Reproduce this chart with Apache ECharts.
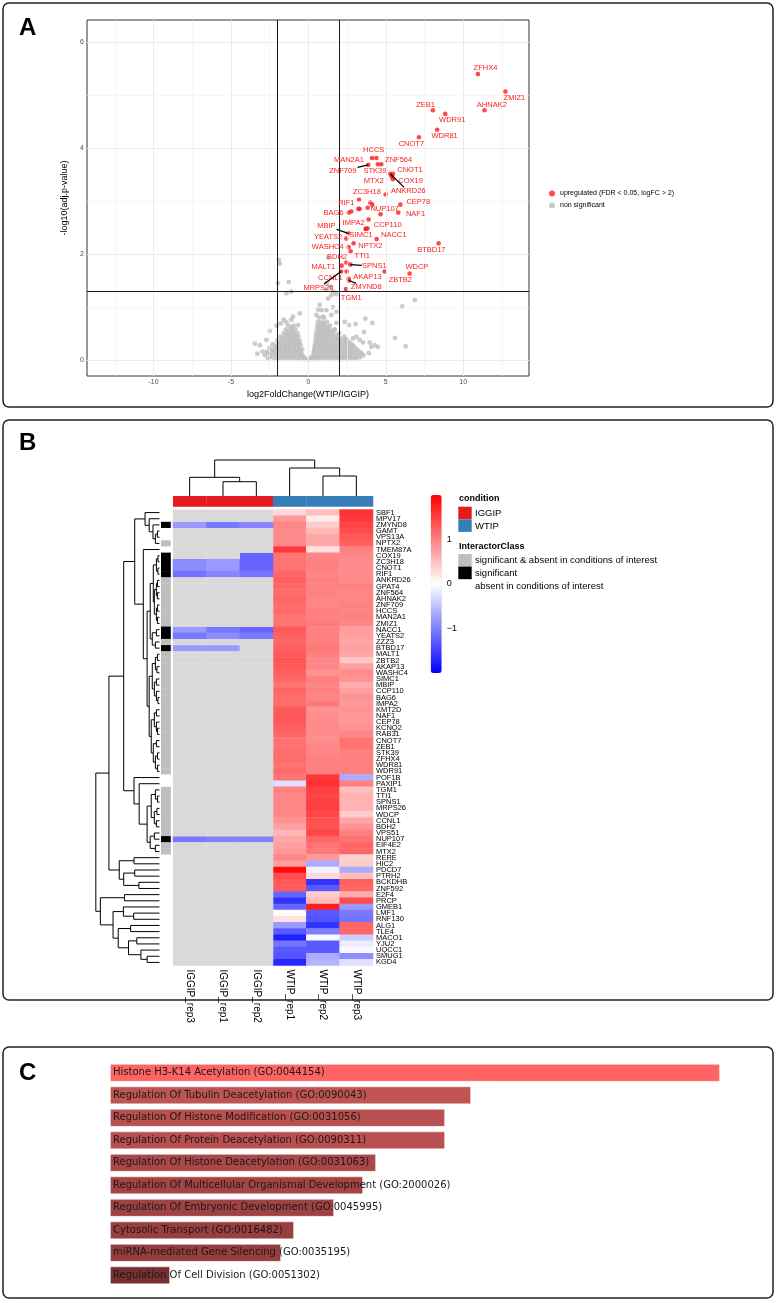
<!DOCTYPE html>
<html><head><meta charset="utf-8">
<script src="https://cdn.jsdelivr.net/npm/echarts@6/dist/echarts.min.js"></script>
<style>html,body{margin:0;padding:0;background:#fff}#c{width:776px;height:1303px}</style>
</head><body><div id="c"></div>
<script>
// ---------------- Panel A data ----------------
const xTicks = [-10,-5,0,5,10];
const xMinorGrid = [-12.5,-7.5,-2.5,2.5,7.5,12.5];
const yTicks = [0,2,4,6];
const yMinorGrid = [1,3,5];
const fcCut = 2, pCut = 1.30;

const upGenes = ['ZFHX4','ZMIZ1','AHNAK2','ZEB1','WDR91','WDR81','CNOT7','HCCS','MAN2A1','ZNF564','ZNF709','STK39','CNOT1','MTX2','COX19','ANKRD26','ZC3H18','RIF1','CEP78','NUP107','NAF1','BAG6','IMPA2','CCP110','MBIP','SIMC1','NACC1','YEATS2','NPTX2','WASHC4','BTBD17','TTI1','BDH2','SPNS1','MALT1','WDCP','CCNL1','AKAP13','ZBTB2','MRPS26','ZMYND8','TGM1'];
const upLogFC = [10.95,12.73,11.38,8.04,8.84,8.32,7.14,4.39,4.11,4.71,3.87,4.49,5.46,5.38,5.46,5.29,4.99,3.27,5.94,4.13,5.81,2.60,3.89,3.82,2.58,3.72,4.41,2.45,2.92,2.60,8.41,2.73,2.45,2.71,2.15,6.54,2.47,2.60,4.92,2.11,2.62,2.43];
const upLogP  = [5.39,5.06,4.71,4.71,4.64,4.34,4.20,3.81,3.81,3.69,3.68,3.69,3.51,3.46,3.41,3.51,3.12,3.02,2.93,2.93,2.78,2.78,2.65,2.48,2.39,2.48,2.28,2.29,2.20,2.13,2.20,2.05,1.84,1.80,1.78,1.63,1.67,1.53,1.67,1.67,1.50,1.34];
const labelLogFC = [11.44,13.31,11.85,7.57,9.29,8.80,6.65,4.22,2.62,5.83,2.22,4.30,6.56,4.22,6.60,6.45,3.78,2.45,7.10,4.92,6.92,1.63,2.92,5.12,1.16,3.40,5.51,1.27,4.00,1.25,7.94,3.48,1.85,4.26,0.97,7.01,1.42,3.81,5.94,0.65,3.74,2.77];
const labelLogP  = [5.50,4.95,4.81,4.81,4.53,4.22,4.08,3.96,3.77,3.77,3.57,3.56,3.58,3.37,3.38,3.18,3.17,2.97,2.98,2.85,2.75,2.78,2.58,2.55,2.53,2.35,2.35,2.33,2.16,2.14,2.08,1.96,1.94,1.77,1.75,1.75,1.55,1.56,1.52,1.36,1.37,1.17];
const leaderGenes = ['ZNF709','ANKRD26','MBIP','SPNS1','MRPS26','ZMYND8'];
const upExtra = [[4.00,2.97],[3.83,2.87],[3.31,2.85],[3.23,2.85],[2.77,2.80],[5.40,3.47],[4.66,2.75],[3.70,2.47]];

const nsPoints = [
[-3.46,0.31],[-3.14,0.28],[-2.97,0.16],[-3.30,0.12],[-2.71,0.38],[-2.49,0.55],[-2.06,0.65],[-1.78,0.69],[-1.59,0.76],[-1.42,0.71],[-1.10,0.76],[-0.99,0.82],[-0.67,0.66],[-0.56,0.88],
[-1.91,1.89],[-1.85,1.82],[-1.96,1.45],[-1.27,1.47],[-1.42,1.26],[-1.10,1.29],[1.27,1.93],[1.20,1.45],[1.45,1.38],
[0.52,0.85],[0.62,0.95],[0.73,1.04],[0.84,0.94],[0.95,0.82],[1.16,0.94],[1.27,1.16],[1.16,1.33],[1.59,1.29],[1.48,1.22],[1.70,1.27],[1.81,1.24],[1.59,1.00],[1.81,0.91],[1.48,0.85],[1.81,0.70],[1.70,0.57],
[2.34,0.72],[2.62,0.66],[3.05,0.68],[3.68,0.78],[4.13,0.70],[3.59,0.53],[2.88,0.41],[3.10,0.44],[3.31,0.38],[3.53,0.33],[3.96,0.33],[4.06,0.25],[4.49,0.25],[4.28,0.28],[3.42,0.13],[3.91,0.13],[5.59,0.42],[6.28,0.26],[6.06,1.01],[6.88,1.13],
[-2.6,0.02],[-2.2,0.02],[-1.9,0.02],[-1.6,0.02],[-1.3,0.02],[-1.0,0.02],[-0.7,0.02],[-0.45,0.02],[-0.2,0.02],[0.0,0.01],[0.2,0.02],[0.45,0.02],[0.7,0.02],[1.0,0.02],[1.3,0.02],[1.6,0.02],[1.9,0.02],[2.2,0.02],[2.5,0.02],[2.8,0.02],[3.1,0.02],
[-2.45,0.055],[-2.05,0.055],[-1.75,0.055],[-1.45,0.055],[-1.15,0.055],[-0.85,0.055],[-0.55,0.055],[-0.3,0.05],[0.1,0.04],[0.35,0.055],[0.6,0.055],[0.9,0.055],[1.2,0.055],[1.5,0.055],[1.8,0.055],[2.1,0.055],[2.4,0.055],[2.7,0.055],[3.0,0.055],[3.35,0.055],
[-2.8,0.09],[-2.4,0.09],[-2.1,0.09],[-1.8,0.09],[-1.5,0.09],[-1.2,0.09],[-0.9,0.09],[-0.6,0.09],[-0.35,0.08],[0.3,0.09],[0.55,0.09],[0.8,0.09],[1.05,0.09],[1.35,0.09],[1.65,0.09],[1.95,0.09],[2.25,0.09],[2.55,0.09],[2.85,0.09],[3.2,0.09],[3.55,0.09],
[-2.55,0.125],[-2.25,0.125],[-1.95,0.125],[-1.65,0.125],[-1.35,0.125],[-1.05,0.125],[-0.75,0.125],[-0.45,0.12],[0.35,0.125],[0.7,0.125],[0.95,0.125],[1.25,0.125],[1.5,0.125],[1.8,0.125],[2.1,0.125],[2.4,0.125],[2.7,0.125],[3.05,0.125],[3.4,0.125],
[-2.7,0.16],[-2.3,0.16],[-2.0,0.16],[-1.7,0.16],[-1.4,0.16],[-1.1,0.16],[-0.8,0.16],[-0.5,0.15],[0.35,0.16],[0.6,0.16],[0.85,0.16],[1.1,0.16],[1.4,0.16],[1.7,0.16],[2.0,0.16],[2.3,0.16],[2.6,0.16],[2.9,0.16],[3.3,0.16],
[-2.35,0.195],[-2.05,0.195],[-1.8,0.195],[-1.5,0.195],[-1.2,0.195],[-0.9,0.195],[-0.6,0.195],[0.4,0.195],[0.75,0.195],[1.0,0.195],[1.3,0.195],[1.55,0.195],[1.85,0.195],[2.2,0.195],[2.5,0.195],[2.8,0.195],[3.15,0.195],
[-2.5,0.23],[-2.15,0.23],[-1.85,0.23],[-1.55,0.23],[-1.25,0.23],[-0.95,0.23],[-0.65,0.23],[-0.4,0.2],[0.4,0.23],[0.65,0.23],[0.9,0.23],[1.15,0.23],[1.45,0.23],[1.75,0.23],[2.05,0.23],[2.35,0.23],[2.7,0.23],[3.0,0.23],
[-2.1,0.265],[-1.8,0.265],[-1.5,0.265],[-1.2,0.265],[-0.9,0.265],[-0.6,0.265],[0.45,0.265],[0.8,0.265],[1.05,0.265],[1.35,0.265],[1.65,0.265],[1.95,0.265],[2.25,0.265],[2.6,0.265],[2.9,0.265],
[-2.3,0.30],[-1.95,0.30],[-1.65,0.30],[-1.35,0.30],[-1.05,0.30],[-0.75,0.30],[-0.5,0.28],[0.42,0.30],[0.68,0.30],[0.95,0.30],[1.2,0.30],[1.5,0.30],[1.8,0.30],[2.1,0.30],[2.45,0.30],[2.8,0.30],
[-1.85,0.335],[-1.55,0.335],[-1.25,0.335],[-0.95,0.335],[-0.65,0.335],[0.55,0.335],[0.8,0.335],[1.1,0.335],[1.4,0.335],[1.7,0.335],[2.0,0.335],[2.35,0.335],[2.65,0.335],
[-2.0,0.37],[-1.7,0.37],[-1.4,0.37],[-1.1,0.37],[-0.8,0.37],[-0.55,0.36],[0.45,0.37],[0.7,0.37],[0.95,0.37],[1.25,0.37],[1.55,0.37],[1.85,0.37],[2.2,0.37],[2.5,0.37],
[-1.65,0.405],[-1.35,0.405],[-1.05,0.405],[-0.75,0.405],[0.6,0.405],[0.85,0.405],[1.15,0.405],[1.45,0.405],[1.75,0.405],[2.05,0.405],[2.4,0.405],
[-1.8,0.44],[-1.5,0.44],[-1.2,0.44],[-0.9,0.44],[-0.65,0.44],[0.48,0.44],[0.72,0.44],[1.0,0.44],[1.3,0.44],[1.6,0.44],[1.9,0.44],[2.3,0.44],
[-1.45,0.475],[-1.15,0.475],[-0.85,0.475],[0.62,0.475],[0.88,0.475],[1.15,0.475],[1.45,0.475],[1.8,0.475],
[-1.6,0.51],[-1.3,0.51],[-1.0,0.51],[-0.7,0.51],[0.5,0.51],[0.75,0.51],[1.0,0.51],[1.3,0.51],[1.6,0.51],[2.0,0.51],
[-1.3,0.545],[-1.0,0.545],[0.65,0.545],[0.9,0.545],[1.2,0.545],[1.5,0.545],
[-1.45,0.58],[-1.15,0.58],[-0.85,0.58],[0.55,0.58],[0.8,0.58],[1.05,0.58],[1.35,0.58],[1.7,0.58],
[-1.1,0.615],[0.7,0.615],[0.95,0.615],[1.25,0.615],
[-1.3,0.65],[-0.95,0.65],[0.58,0.65],[0.85,0.65],[1.1,0.65],[1.4,0.65],
[0.75,0.69],[1.05,0.69],
[0.62,0.72],[0.9,0.72],[1.2,0.72],[0.7,0.80],[1.0,0.80]
];
const upName = 'upregulated (FDR < 0.05, logFC > 2)';
const nsName = 'non significant';

// ---------------- Panel B data ----------------
const sampleCols = ['IGGIP_rep3','IGGIP_rep1','IGGIP_rep2','WTIP_rep1','WTIP_rep2','WTIP_rep3'];
const sampleCondition = ['IGGIP','IGGIP','IGGIP','WTIP','WTIP','WTIP'];
const genes = ['SBF1','MPV17','ZMYND8','GAMT','VPS13A','NPTX2','TMEM87A','COX19','ZC3H18','CNOT1','RIF1','ANKRD26','GPAT4','ZNF564','AHNAK2','ZNF709','HCCS','MAN2A1','ZMIZ1','NACC1','YEATS2','ZZZ3','BTBD17','MALT1','ZBTB2','AKAP13','WASHC4','SIMC1','MBIP','CCP110','BAG6','IMPA2','KMT2D','NAF1','CEP78','KCNQ2','RAB31','CNOT7','ZEB1','STK39','ZFHX4','WDR81','WDR91','POF1B','PAXIP1','TGM1','TTI1','SPNS1','MRPS26','WDCP','CCNL1','BDH2','VPS51','NUP107','EIF4E2','MTX2','RERE','HIC2','PDCD7','PTRH2','BCKDHB','ZNF592','E2F4','PRCP','GMEB1','LMF1','RNF130','ALG1','TLE4','MACO1','YJU2','UQCC1','SMUG1','KGD4'];
const wtipRep1 = [0.30,0.80,0.95,0.90,0.90,0.90,1.55,1.10,1.10,1.10,1.20,1.25,1.20,1.15,1.20,1.15,1.15,1.10,1.10,1.30,1.25,1.20,1.25,1.30,1.35,1.30,1.25,1.20,1.10,1.20,1.15,1.15,1.30,1.30,1.30,1.25,1.20,1.10,1.10,1.15,1.15,1.10,1.15,1.10,-0.25,1.00,0.95,0.95,0.95,0.95,0.85,0.75,0.55,0.70,0.75,0.80,0.95,0.75,1.90,1.40,1.30,1.30,-1.20,-1.60,-1.20,0.05,0.25,-0.80,-1.30,-1.75,-1.10,-1.30,-1.35,-1.70];
const wtipRep2 = [0.50,0.15,0.40,0.55,0.70,0.70,0.25,0.95,1.00,1.00,0.95,1.00,1.00,1.00,0.95,0.95,1.00,1.00,1.05,1.00,1.00,1.00,1.05,1.00,0.95,0.95,0.85,1.00,0.95,1.00,0.95,1.05,0.85,0.90,0.90,0.90,0.90,0.90,0.95,0.95,1.00,1.00,1.00,1.55,1.60,1.50,1.45,1.50,1.50,1.45,1.35,1.35,1.45,1.20,1.10,1.05,0.80,-0.65,-0.10,0.30,-1.60,-1.30,0.40,0.50,1.75,-1.30,-1.35,-1.60,-1.00,-0.05,-1.30,-1.30,-0.65,-0.60];
const wtipRep3 = [1.60,1.55,1.45,1.40,1.30,1.25,1.00,0.95,0.90,0.90,0.90,0.90,1.00,0.95,0.95,1.00,0.95,1.00,0.95,0.75,0.75,0.70,0.75,0.70,0.45,0.75,0.90,0.85,0.65,0.75,0.85,0.80,0.85,0.80,0.80,0.85,0.95,1.10,1.10,1.00,1.00,1.00,1.00,-0.65,1.00,0.50,0.60,0.60,0.60,0.40,0.70,0.85,1.00,1.10,1.20,1.20,0.35,0.40,-0.65,0.50,1.25,1.20,0.65,1.40,-0.80,-1.05,-1.10,1.20,1.20,-0.40,-0.15,-0.05,-0.90,-0.25];
const iggipGenes = ['ZMYND8','COX19','ZC3H18','CNOT1','RIF1','NACC1','YEATS2','BTBD17','NUP107'];
const iggipRep3 = [-0.80,null,-0.90,-0.90,-1.10,-0.80,-1.05,-0.80,-1.05];
const iggipRep1 = [-1.05,null,-0.80,-0.80,-0.95,-1.05,-0.90,-0.80,-1.00];
const iggipRep2 = [-0.95,-1.20,-1.20,-1.20,-1.10,-1.20,-1.05,null,-1.00];
// S = significant, G = significant & absent in conditions of interest, A = absent in conditions of interest
const interactorClass = ['A','A','S','A','A','G','A','S','S','S','S','G','G','G','G','G','G','G','G','S','S','G','S','G','G','G','G','G','G','G','G','G','G','G','G','G','G','G','G','G','G','G','G','A','A','G','G','G','G','G','G','G','G','S','G','G','A','A','A','A','A','A','A','A','A','A','A','A','A','A','A','A','A','A'];
// row dendrogram: [height, left, right], leaves = row index
const rowTree = [61.7,
  [49,
    [34.7,
      [24, [14, 0, [10, 1, [6.3, 2, [4, [2, 3, 4], 5]]]],
           [15.7, 6, [12,
              [9, [6, [3, [1.5, 7, 8], [1.5, 9, 10]], [5, [3, [2, 11, 12], [2, 13, 14]], [3, [2, 15, 16], [2, 17, 18]]]], [7, [3, 19, 20], [4, 21, 22]]],
              [10, [7, [4, [2, 23, 24], [2.5, 25, 26]], [5, [3, 27, 28], [3, 29, [1.5, 30, 31]]]], [8, [5, [3, 32, 33], [3, 34, [2, 35, 36]]], [6, [3, 37, 38], [4, [2, 39, 40], [2, 41, 42]]]]]
           ]]],
      [24.7, 43, [19.7, 44, [12, [8, [4, 45, [2, 46, 47]], [5, [2.5, 48, 49], [3, 50, 51]]], [9, [5, 52, 53], [4, 54, 55]]]]]
    ],
    [39, [24.7, 56, 57], [34.7, [24, 58, 59], [20, 60, 61]]]
  ],
  [57.3, [34, 62, 63], [45, [35, 64, [25, 65, 66]], [40, [28, 67, 68], [30, [22, 69, 70], [18, 71, [12, 72, 73]]]]]]
];
const colTree = [36, [18.7, 0, [14.3, 1, 2]], [28, 3, [20, 4, 5]]];

// ---------------- Panel C data ----------------
const goTerms = ['Histone H3-K14 Acetylation (GO:0044154)','Regulation Of Tubulin Deacetylation (GO:0090043)','Regulation Of Histone Modification (GO:0031056)','Regulation Of Protein Deacetylation (GO:0090311)','Regulation Of Histone Deacetylation (GO:0031063)','Regulation Of Multicellular Organismal Development (GO:2000026)','Regulation Of Embryonic Development (GO:0045995)','Cytosolic Transport (GO:0016482)','miRNA-mediated Gene Silencing (GO:0035195)','Regulation Of Cell Division (GO:0051302)'];
const goScores = [6.10,3.61,3.35,3.35,2.66,2.53,2.24,1.84,1.71,0.60];

// ---------------- styles ----------------
const barColors = ['#fe6464','#bf5454','#b94f4f','#b94f4f','#aa4747','#a44444','#9f4242','#9a3f3f','#963d3d','#7a3030'];
const condColors = {IGGIP:'#e41a1c', WTIP:'#377eb8'};
const classColors = {S:'#000000', G:'#bebebe', A:'#ffffff'};
const FONT = 'Liberation Sans';

// ---------------- build ----------------
function layoutTree(node, segs){
  if (typeof node === 'number') return [0, node];
  const h = node[0];
  const A = layoutTree(node[1], segs), B = layoutTree(node[2], segs);
  segs.push([h, A[1], h, B[1]]);
  segs.push([h, A[1], A[0], A[1]]);
  segs.push([h, B[1], B[0], B[1]]);
  return [h, (A[1] + B[1]) / 2];
}
const rowSegs = []; layoutTree(rowTree, rowSegs);
const colSegsRaw = []; layoutTree(colTree, colSegsRaw);
const colSegs = colSegsRaw.map(s => [s[1], s[0], s[3], s[2]]);

const heatData = [], naCells = [];
genes.forEach((g, r) => {
  heatData.push([3, r, wtipRep1[r]], [4, r, wtipRep2[r]], [5, r, wtipRep3[r]]);
  const k = iggipGenes.indexOf(g);
  [iggipRep3, iggipRep1, iggipRep2].forEach((arr, c) => {
    const v = k >= 0 ? arr[k] : null;
    if (v === null) naCells.push([c, r]); else heatData.push([c, r, v]);
  });
});

const upData = upGenes.map((g, i) => ({name: g, value: [upLogFC[i], upLogP[i]]})).concat(upExtra.map(p => ({value: p})));
const labelData = upGenes.map((g, i) => ({name: g, value: [labelLogFC[i], labelLogP[i], upLogFC[i], upLogP[i]]}));

function segRender(params, api){
  const p1 = api.coord([api.value(0), api.value(1)]);
  const p2 = api.coord([api.value(2), api.value(3)]);
  return {type: 'line', shape: {x1: p1[0], y1: p1[1], x2: p2[0], y2: p2[1]}, style: {stroke: '#000', lineWidth: 1}};
}
function cellRender(colorFn){
  return function(params, api){
    const c = api.coord([api.value(0), api.value(1)]);
    const s = api.size([1, 1]);
    return {type: 'rect', shape: {x: c[0] - s[0] / 2, y: c[1] - s[1] / 2, width: s[0] + 0.3, height: s[1] + 0.3}, style: {fill: colorFn(params.dataIndex)}};
  };
}

const option = {
  animation: false,
  backgroundColor: '#fff',
  textStyle: {fontFamily: FONT},
  grid: [
    {left: 87, top: 20, width: 442, height: 356, show: true, borderColor: '#333', borderWidth: 1, backgroundColor: 'transparent'},
    {left: 173, top: 509.5, width: 200, height: 456},
    {left: 173, top: 496, width: 200, height: 10.5},
    {left: 161, top: 509.5, width: 9.5, height: 456},
    {left: 95, top: 509.5, width: 64.5, height: 456},
    {left: 173, top: 460, width: 200, height: 36},
    {left: 430.7, top: 495, width: 11, height: 178},
    {left: 110, top: 1061.6, width: 650, height: 225}
  ],
  xAxis: [
    {gridIndex: 0, type: 'value', min: -14.3, max: 14.25, splitLine: {show: false}, axisLine: {show: false},
     axisTick: {show: true, customValues: xTicks, length: 3, lineStyle: {color: '#333'}},
     axisLabel: {customValues: xTicks, fontSize: 7, color: '#4d4d4d', margin: 3},
     name: 'log2FoldChange(WTIP/IGGIP)', nameLocation: 'middle', nameGap: 14, nameTextStyle: {fontSize: 9, color: '#000'}},
    {gridIndex: 1, type: 'category', data: sampleCols, axisLine: {show: false}, axisTick: {show: false},
     axisLabel: {rotate: -90, fontSize: 10, color: '#000', margin: 4, interval: 0}},
    {gridIndex: 2, type: 'category', data: sampleCols, show: false},
    {gridIndex: 3, type: 'category', data: ['InteractorClass'], show: false},
    {gridIndex: 4, type: 'value', min: 0, max: 62.5, inverse: true, show: false},
    {gridIndex: 5, type: 'value', min: -0.5, max: 5.5, show: false},
    {gridIndex: 6, type: 'value', min: 0, max: 1, show: false},
    {gridIndex: 7, type: 'value', min: 0, max: 6.5, show: false}
  ],
  yAxis: [
    {gridIndex: 0, type: 'value', min: -0.3, max: 6.41, splitLine: {show: false}, axisLine: {show: false},
     axisTick: {show: true, customValues: yTicks, length: 3, lineStyle: {color: '#333'}},
     axisLabel: {customValues: yTicks, fontSize: 7, color: '#4d4d4d', margin: 3},
     name: '-log10(adj.p-value)', nameLocation: 'middle', nameGap: 17, nameRotate: 90, nameTextStyle: {fontSize: 9, color: '#000'}},
    {gridIndex: 1, type: 'category', data: genes, inverse: true, position: 'right', axisLine: {show: false}, axisTick: {show: false},
     axisLabel: {fontSize: 7.5, color: '#000', margin: 3, interval: 0}},
    {gridIndex: 2, type: 'category', data: ['condition'], show: false},
    {gridIndex: 3, type: 'category', data: genes, inverse: true, show: false},
    {gridIndex: 4, type: 'value', min: -0.5, max: 73.5, inverse: true, show: false},
    {gridIndex: 5, type: 'value', min: 0, max: 36, show: false},
    {gridIndex: 6, type: 'value', min: -2, max: 2, interval: 1, position: 'right', axisLine: {show: false}, axisTick: {show: false}, splitLine: {show: false},
     axisLabel: {fontSize: 9, color: '#000', margin: 5, formatter: v => (v === -2 || v === 2) ? '' : String(v).replace('-', '\u2212')}},
    {gridIndex: 7, type: 'category', data: goTerms, inverse: true, show: false}
  ],
  visualMap: {type: 'continuous', min: -2, max: 2, seriesIndex: 5, calculable: false, orient: 'vertical',
    left: 430.7, top: 495, itemWidth: 11, itemHeight: 178, padding: 0, text: null, textGap: 0,
    inRange: {color: ['#0000ff', '#ffffff', '#ff0000']}},
  legend: {data: [upName, nsName], orient: 'vertical', left: 549, top: 190, padding: 0, itemWidth: 6, itemHeight: 6, itemGap: 5, icon: 'circle',
    textStyle: {fontSize: 7, color: '#000', fontFamily: FONT}, selectedMode: false},
  graphic: [
    {type: 'rect', shape: {x: 3, y: 3, width: 770, height: 404, r: 6}, style: {fill: 'none', stroke: '#222', lineWidth: 1.5}},
    {type: 'rect', shape: {x: 3, y: 420, width: 770, height: 580, r: 6}, style: {fill: 'none', stroke: '#222', lineWidth: 1.5}},
    {type: 'rect', shape: {x: 3, y: 1047, width: 770, height: 251, r: 6}, style: {fill: 'none', stroke: '#222', lineWidth: 1.5}},
    {type: 'text', left: 19, top: 16, style: {text: 'A', font: 'bold 24px "Liberation Sans"', fill: '#000'}},
    {type: 'text', left: 19, top: 431, style: {text: 'B', font: 'bold 24px "Liberation Sans"', fill: '#000'}},
    {type: 'text', left: 19, top: 1061, style: {text: 'C', font: 'bold 24px "Liberation Sans"', fill: '#000'}},
    {type: 'text', left: 459, top: 494, style: {text: 'condition', font: 'bold 9px "Liberation Sans"', fill: '#000'}},
    {type: 'rect', shape: {x: 458.3, y: 506.7, width: 13.4, height: 12.6}, style: {fill: condColors.IGGIP}},
    {type: 'rect', shape: {x: 458.3, y: 519.3, width: 13.4, height: 12.6}, style: {fill: condColors.WTIP}},
    {type: 'text', left: 475, top: 508, style: {text: 'IGGIP', font: '9.5px "Liberation Sans"', fill: '#000'}},
    {type: 'text', left: 475, top: 521, style: {text: 'WTIP', font: '9.5px "Liberation Sans"', fill: '#000'}},
    {type: 'text', left: 459, top: 542, style: {text: 'InteractorClass', font: 'bold 9px "Liberation Sans"', fill: '#000'}},
    {type: 'rect', shape: {x: 458.3, y: 554, width: 13.4, height: 12.6}, style: {fill: classColors.G}},
    {type: 'rect', shape: {x: 458.3, y: 566.6, width: 13.4, height: 12.6}, style: {fill: classColors.S}},
    {type: 'text', left: 475, top: 555, style: {text: 'significant & absent in conditions of interest', font: '9.5px "Liberation Sans"', fill: '#000'}},
    {type: 'text', left: 475, top: 568, style: {text: 'significant', font: '9.5px "Liberation Sans"', fill: '#000'}},
    {type: 'text', left: 475, top: 581, style: {text: 'absent in conditions of interest', font: '9.5px "Liberation Sans"', fill: '#000'}}
  ],
  series: [
    {type: 'scatter', xAxisIndex: 0, yAxisIndex: 0, data: [], z: 1, silent: true,
     markLine: {silent: true, symbol: 'none', label: {show: false}, animation: false,
       data: xTicks.map(v => ({xAxis: v, lineStyle: {color: '#ebebeb', width: 1, type: 'solid'}}))
         .concat(xMinorGrid.map(v => ({xAxis: v, lineStyle: {color: '#f2f2f2', width: 0.6, type: 'solid'}})))
         .concat(yTicks.map(v => ({yAxis: v, lineStyle: {color: '#ebebeb', width: 1, type: 'solid'}})))
         .concat(yMinorGrid.map(v => ({yAxis: v, lineStyle: {color: '#f2f2f2', width: 0.6, type: 'solid'}})))}},
    {name: nsName, type: 'scatter', xAxisIndex: 0, yAxisIndex: 0, data: nsPoints, symbolSize: 4.8, itemStyle: {color: '#bebebe'}, z: 2},
    {name: upName, type: 'scatter', xAxisIndex: 0, yAxisIndex: 0, data: upData, symbolSize: 4.6, itemStyle: {color: '#ff1a1a'}, z: 3},
    {type: 'scatter', xAxisIndex: 0, yAxisIndex: 0, data: [], z: 4, silent: true,
     markLine: {silent: true, symbol: 'none', label: {show: false}, animation: false, lineStyle: {color: '#000', width: 0.9, type: 'solid'},
       data: [{xAxis: -fcCut}, {xAxis: fcCut}, {yAxis: pCut}]}},
    {type: 'custom', xAxisIndex: 0, yAxisIndex: 0, data: labelData, z: 5, silent: true, clip: false,
     encode: {x: [0, 2], y: [1, 3]},
     renderItem: function(params, api){
       const g = upGenes[params.dataIndex];
       const lp = api.coord([api.value(0), api.value(1)]);
       const children = [{type: 'text', x: lp[0], y: lp[1], style: {text: g, fill: '#ff1a1a', fontSize: 7.5, fontFamily: FONT, align: 'center', verticalAlign: 'middle'}}];
       if (leaderGenes.indexOf(g) >= 0) {
         const pp = api.coord([api.value(2), api.value(3)]);
         const hw = g.length * 2.3 + 1, hh = 4;
         const dx = pp[0] - lp[0], dy = pp[1] - lp[1];
         const t = Math.min(hw / Math.max(Math.abs(dx), 1e-6), hh / Math.max(Math.abs(dy), 1e-6));
         children.push({type: 'line', shape: {x1: lp[0] + dx * t, y1: lp[1] + dy * t, x2: pp[0], y2: pp[1]}, style: {stroke: '#000', lineWidth: 1.3}});
       }
       return {type: 'group', children: children};
     }},
    {type: 'heatmap', xAxisIndex: 1, yAxisIndex: 1, data: heatData, z: 2},
    {type: 'custom', xAxisIndex: 1, yAxisIndex: 1, data: naCells, z: 2, silent: true, renderItem: cellRender(() => '#d9d9d9')},
    {type: 'custom', xAxisIndex: 2, yAxisIndex: 2, data: sampleCols.map((c, i) => [i, 0]), silent: true,
     renderItem: cellRender(i => condColors[sampleCondition[i]])},
    {type: 'custom', xAxisIndex: 3, yAxisIndex: 3, data: genes.map((g, i) => [0, i]), silent: true,
     renderItem: cellRender(i => classColors[interactorClass[i]])},
    {type: 'custom', xAxisIndex: 4, yAxisIndex: 4, data: rowSegs, silent: true, clip: false, encode: {x: [0, 2], y: [1, 3]}, renderItem: segRender},
    {type: 'custom', xAxisIndex: 5, yAxisIndex: 5, data: colSegs, silent: true, clip: false, encode: {x: [0, 2], y: [1, 3]}, renderItem: segRender},
    {type: 'scatter', xAxisIndex: 6, yAxisIndex: 6, data: [], silent: true},
    {type: 'bar', xAxisIndex: 7, yAxisIndex: 7, data: goScores, barCategoryGap: '21%', silent: true,
     itemStyle: {color: p => barColors[p.dataIndex], borderColor: 'rgba(255,255,255,0.6)', borderWidth: 0.8},
     label: {show: true, position: 'insideLeft', distance: 3, formatter: p => p.name, color: '#1a1a1a', fontSize: 10, fontFamily: 'DejaVu Sans'}}
  ]
};
const chart = echarts.init(document.getElementById('c'), null, {renderer: 'canvas', width: 776, height: 1303});
chart.setOption(option);
</script></body></html>
